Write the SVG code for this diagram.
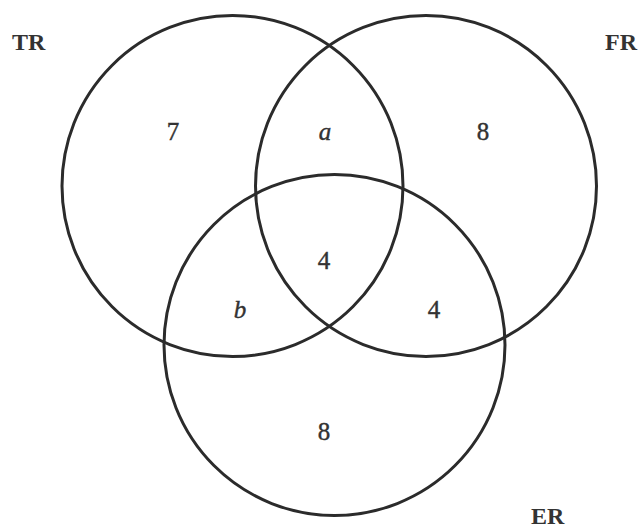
<svg xmlns="http://www.w3.org/2000/svg" width="639" height="530" viewBox="0 0 639 530">
<style>
.c{fill:none;stroke:#2b2b2b;stroke-width:3}
.lbl{font-family:"Liberation Serif","DejaVu Serif",serif;font-weight:bold;font-size:24px;fill:#333}
.n{font-family:"Liberation Serif","DejaVu Serif",serif;font-size:25px;fill:#333;stroke:#333;stroke-width:0.4;text-anchor:middle}
.i{font-style:italic}
</style>
<rect width="639" height="530" fill="#fff"/>
<g id="TR">
<circle class="c" cx="232.5" cy="186" r="170.5"/>
<text class="lbl" x="12" y="50">TR</text>
</g>
<g id="FR">
<circle class="c" cx="426" cy="186" r="170.5"/>
<text class="lbl" x="605" y="50">FR</text>
</g>
<g id="ER">
<circle class="c" cx="334.5" cy="345" r="170.5"/>
<text class="lbl" x="531" y="524">ER</text>
</g>
<g id="regions">
<text class="n" x="173" y="140">7</text>
<text class="n i" x="325" y="140">a</text>
<text class="n" x="483" y="140">8</text>
<text class="n" x="324" y="269">4</text>
<text class="n i" x="240" y="318">b</text>
<text class="n" x="434" y="318">4</text>
<text class="n" x="324" y="440">8</text>
</g>
</svg>
